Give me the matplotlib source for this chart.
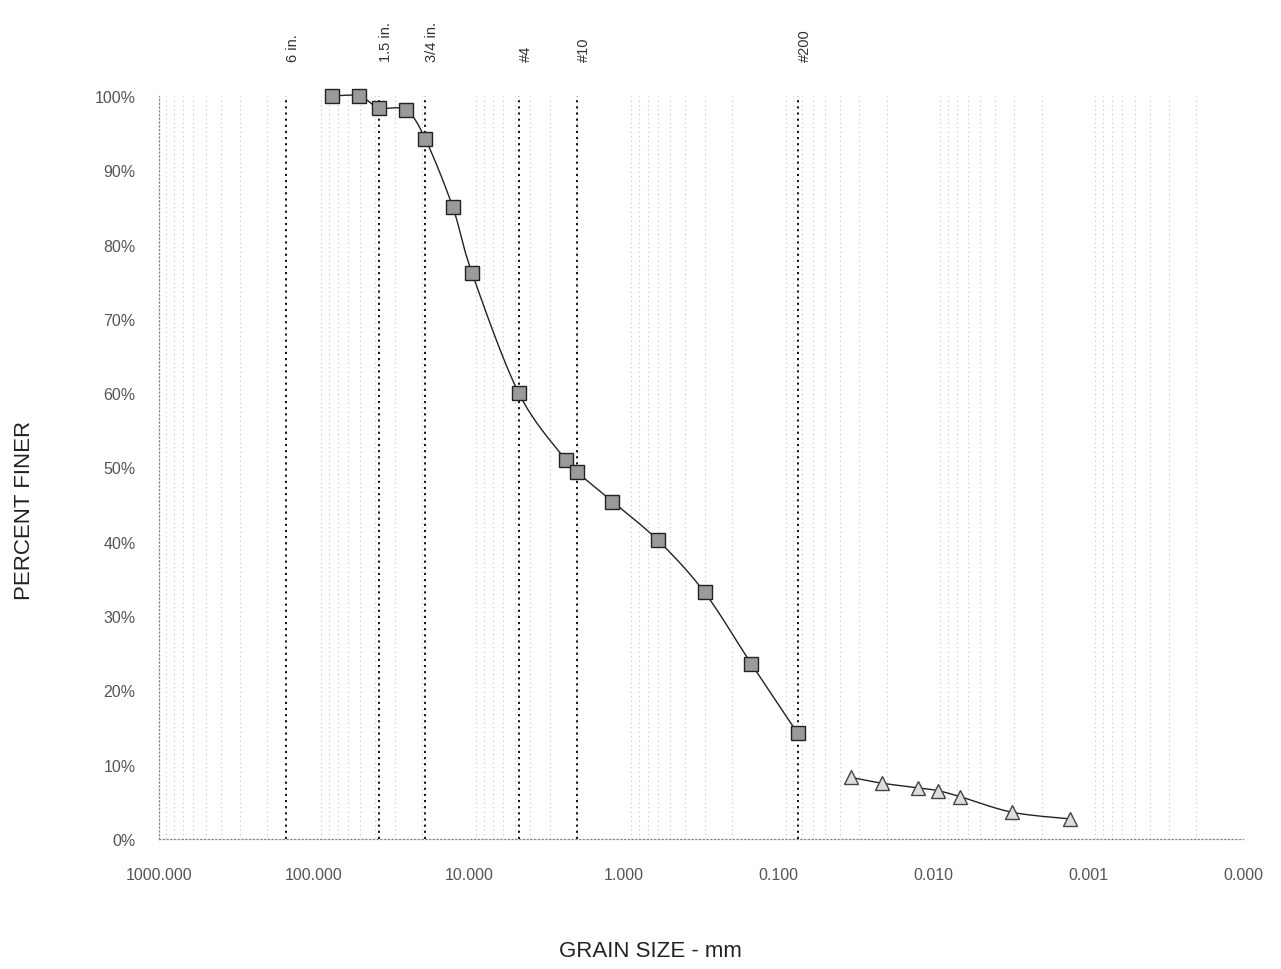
import matplotlib
matplotlib.use("Agg")
import matplotlib.pyplot as plt
import matplotlib.transforms as mtransforms
from matplotlib.ticker import FixedLocator, FuncFormatter, NullFormatter
import numpy as np

plt.rcParams['font.family'] = ['Liberation Sans', 'DejaVu Sans']

# Sieve analysis (mm, percent finer)
sieve_mm = [76.2, 50.8, 38.1, 25.4, 19.05, 12.7, 9.525, 4.75, 2.36, 2.0,
            1.18, 0.6, 0.3, 0.15, 0.075]
sieve_pct = [100.0, 100.0, 98.4, 98.1, 94.2, 85.1, 76.2, 60.0, 51.0, 49.4,
             45.4, 40.2, 33.2, 23.6, 14.2]

# Hydrometer analysis (mm, percent finer)
hydro_mm = [0.0339, 0.0213, 0.0125, 0.0093, 0.0067, 0.0031, 0.0013]
hydro_pct = [8.3, 7.5, 6.9, 6.5, 5.7, 3.6, 2.7]

# Standard sieve reference lines
ref_mm = [152.4, 38.1, 19.05, 4.75, 2.0, 0.075]
ref_labels = ["6 in.", "1.5 in.", "3/4 in.", "#4", "#10", "#200"]

x_major = [1000, 100, 10, 1, 0.1, 0.01, 0.001, 0.0001]
y_ticks = [0, 10, 20, 30, 40, 50, 60, 70, 80, 90, 100]


def smooth_curve(xs, ys, n=24):
    """Catmull-Rom curve through the points, built in log10(x) space."""
    lx = np.log10(np.asarray(xs, float))
    y = np.asarray(ys, float)
    px = np.concatenate([[lx[0]], lx, [lx[-1]]])
    py = np.concatenate([[y[0]], y, [y[-1]]])
    out_x, out_y = [], []
    t = np.linspace(0, 1, n)
    for i in range(1, len(px) - 2):
        p0, p1, p2, p3 = (np.array([px[j], py[j]]) for j in range(i - 1, i + 3))
        c1 = p1 + (p2 - p0) / 6.0
        c2 = p2 - (p3 - p1) / 6.0
        b = ((1 - t) ** 3)[:, None] * p1 + (3 * (1 - t) ** 2 * t)[:, None] * c1 \
            + (3 * (1 - t) * t ** 2)[:, None] * c2 + (t ** 3)[:, None] * p2
        out_x.extend(b[:, 0])
        out_y.extend(b[:, 1])
    return 10 ** np.array(out_x), np.array(out_y)


W, H = 1281, 970
fig = plt.figure(figsize=(W / 100, H / 100), dpi=100)
ax = fig.add_axes([159 / W, (H - 840) / H, (1243 - 159) / W, (840 - 97) / H])

ax.set_xscale('log')
ax.set_xlim(1000, 0.0001)
ax.set_ylim(0, 100)

# faint dotted grid at minor log positions
minor = [m * 10.0 ** e for e in range(-4, 3) for m in range(2, 10)]
for xm in minor:
    ax.axvline(xm, color='#c4c4c4', lw=0.8, ls=(0, (1, 3)), zorder=0)

for xr in ref_mm:
    ax.axvline(xr, color='black', lw=1.3, ls=(0, (1.2, 2.2)), zorder=1)

sx, sy = smooth_curve(sieve_mm, sieve_pct)
ax.plot(sx, sy, color='#222222', lw=1.0, zorder=2, clip_on=False)
ax.plot(sieve_mm, sieve_pct, ls='none', marker='s', ms=10,
        mfc='#9a9a9a', mec='#222222', mew=1.0, zorder=3, clip_on=False)

hx, hy = smooth_curve(hydro_mm, hydro_pct)
ax.plot(hx, hy, color='#222222', lw=1.0, zorder=2)
ax.plot(hydro_mm, hydro_pct, ls='none', marker='^', ms=10,
        mfc='#dddddd', mec='#444444', mew=1.0, zorder=3)

trans = mtransforms.blended_transform_factory(ax.transData, fig.transFigure)
for xr, lab in zip(ref_mm, ref_labels):
    ax.text(xr, (H - 62) / H, lab, transform=trans, rotation=90,
            ha='left', va='bottom', fontsize=10.5, color='#333333')

ax.xaxis.set_major_locator(FixedLocator(x_major))
ax.xaxis.set_minor_formatter(NullFormatter())
ax.xaxis.set_major_formatter(FuncFormatter(lambda v, p: f"{v:.3f}"))
ax.set_yticks(y_ticks)
ax.yaxis.set_major_formatter(FuncFormatter(lambda v, p: f"{int(v)}%"))
ax.tick_params(axis='both', which='both', length=0, labelsize=11.5,
               labelcolor='#555555')
ax.tick_params(axis='x', pad=20)
ax.tick_params(axis='y', pad=17)

for side in ['top', 'right']:
    ax.spines[side].set_visible(False)
for side in ['left', 'bottom']:
    ax.spines[side].set_color('#888888')
    ax.spines[side].set_linestyle((0, (1, 2)))
    ax.spines[side].set_linewidth(0.9)

fig.text(650 / W, (H - 952) / H, "GRAIN SIZE - mm", ha='center', va='center',
         fontsize=16, color='#222222')
fig.text(25 / W, (H - 510) / H, "PERCENT FINER", ha='center', va='center',
         rotation=90, fontsize=16, color='#222222')

fig.savefig("out.png", dpi=100, facecolor='white')
